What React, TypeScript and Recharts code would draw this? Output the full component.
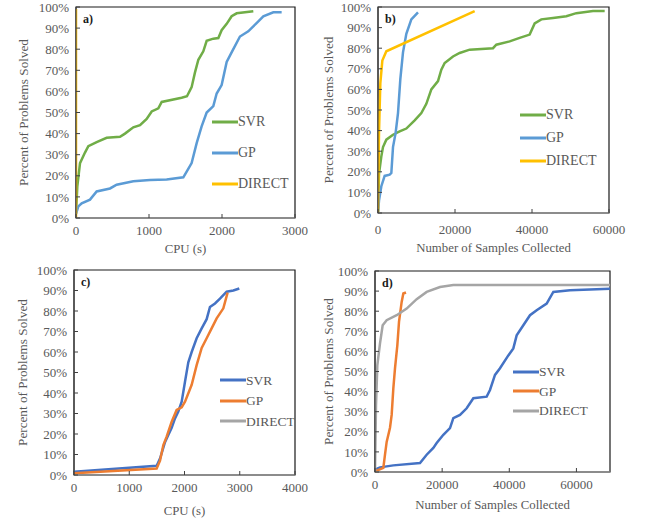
import {
  Legend,
  Line,
  LineChart,
  ReferenceArea,
  XAxis,
  YAxis,
} from "recharts";

// panel a) CPU time, SVR / GP / DIRECT
const aSvrX = [0, 18, 55, 123, 169, 283, 420, 603, 671, 785, 877, 968, 1037, 1128, 1174, 1447, 1520, 1584, 1630, 1676, 1744, 1790, 1881, 1950, 1995, 2064, 2132, 2201, 2429];
const aSvrY = [2, 15, 26, 31, 34, 36, 38, 38.5, 40, 43, 44, 47, 50.5, 52, 55, 57, 57.7, 62, 69, 75, 79, 84, 85, 85.3, 89, 92, 95.6, 97, 98];
const aGpX = [0, 32, 78, 192, 283, 466, 557, 785, 1014, 1242, 1470, 1516, 1584, 1653, 1721, 1790, 1881, 1927, 1995, 2064, 2155, 2246, 2360, 2474, 2566, 2703, 2817];
const aGpY = [2, 5.5, 7, 8.7, 12.6, 14, 15.8, 17.4, 18, 18.2, 19.3, 22, 26, 35.5, 43.4, 50, 53, 59, 63, 74, 80, 86, 88.5, 92.4, 95.6, 97.5, 97.5];
const aDirectX = [0, 0];
const aDirectY = [0, 99];

// panel b) samples collected
const bSvrX = [0, 260, 866, 1300, 2165, 3896, 5628, 7359, 9524, 11255, 12554, 13853, 15584, 16450, 17316, 19481, 21212, 23810, 29870, 30736, 34199, 36797, 39394, 40693, 42424, 45455, 48918, 51515, 55844, 58874];
const bSvrY = [0, 19, 27.5, 32, 35.6, 38, 39.6, 41, 45, 48.5, 53, 60, 64, 69.6, 72.8, 76, 77.7, 79.3, 80, 81.7, 83.3, 85, 86.6, 92, 94, 94.7, 95.5, 97, 98, 98];
const bGpX = [0, 260, 866, 1732, 3030, 3463, 3896, 4589, 5195, 5800, 6493, 7359, 8658, 10390];
const bGpY = [0, 6, 13, 18, 18.6, 19.4, 32, 39, 48.5, 65, 78, 87, 94, 97.4];
const bDirectX = [0, 260, 606, 1125, 2165, 25108];
const bDirectY = [0, 39, 63, 74, 78.5, 98];

// panel c) CPU time, second problem set
const cSvrX = [0, 1496, 1557, 1647, 1707, 1768, 1828, 1888, 1949, 2009, 2069, 2130, 2220, 2311, 2401, 2461, 2552, 2642, 2763, 2884, 2992];
const cSvrY = [1.6, 4.5, 8, 16, 19.5, 23, 27.6, 31, 35.8, 45.5, 55, 60, 66.7, 71.5, 76, 82, 83.7, 86, 89.4, 90, 91];
const cGpX = [0, 1496, 1557, 1617, 1677, 1768, 1858, 1949, 2009, 2130, 2220, 2311, 2401, 2491, 2582, 2703, 2780];
const cGpY = [0.8, 3.2, 7, 14.6, 18.7, 26, 31.7, 33, 35.8, 44, 53.6, 62, 66.7, 71.5, 76.4, 81.3, 89];
const cDirectX: number[] = [];
const cDirectY: number[] = [];

// panel d) samples collected, second problem set
const dSvrX = [0, 1489, 5461, 13404, 15390, 17376, 18369, 20355, 22340, 23333, 25319, 27305, 29291, 33262, 34255, 35745, 37234, 39716, 41206, 42199, 44184, 46170, 48156, 51135, 53121, 58085, 70000];
const dSvrY = [1.2, 2.3, 3.3, 4.5, 8.6, 12, 14.4, 18.5, 21.8, 26.8, 28.4, 31.7, 36.7, 37.5, 40.8, 48.3, 51.6, 58, 61.5, 68, 73, 78, 80.5, 83.8, 89.6, 90.4, 91.2];
const dGpX = [0, 2482, 2979, 3475, 4468, 4965, 5461, 5957, 6652, 7149, 7943, 8440, 9234];
const dGpY = [0.3, 2, 8.6, 15, 22, 28.4, 41.6, 51.6, 63, 74.7, 84.6, 88.8, 89.3];
const dDirectX = [0, 298, 695, 1489, 2284, 3475, 6454, 9433, 12411, 15390, 19362, 23333, 70000];
const dDirectY = [0, 33, 53, 64, 73, 75.5, 78, 81.3, 86, 89.6, 92, 93, 93];

const percentTicks = [0, 10, 20, 30, 40, 50, 60, 70, 80, 90, 100];
const cpuTicksA = [0, 1000, 2000, 3000];
const cpuTicksC = [0, 1000, 2000, 3000, 4000];
const sampleTicks = [0, 20000, 40000, 60000];
const seriesNames = ["SVR", "GP", "DIRECT"];

const serif = "'Liberation Serif', 'Times New Roman', serif";
const textGray = "#595959";
const colorsAB = ["#70AD47", "#5B9BD5", "#FFC000"];
const colorsCD = ["#4472C4", "#ED7D31", "#A5A5A5"];

function zip(xs: number[], ys: number[]) {
  return xs.map((x, i) => ({ x, y: ys[i] }));
}

type Series = { name: string; color: string; data: { x: number; y: number }[] };

type PanelProps = {
  left: number;
  top: number;
  width: number;
  height: number;
  margin: { top: number; right: number; bottom: number; left: number };
  yWidth: number;
  xHeight: number;
  xMax: number;
  xTicks: number[];
  xTickMargin: number;
  xTitle: string;
  xTitleOffset: number;
  yTitleOffset: number;
  tag: string;
  series: Series[];
  legendLeft: number;
  legendTop: number;
  legendGap: number;
  legendFont: number;
};

function LegendBox({ payload, gap, fontSize }: any) {
  const items = [...(payload || [])].sort(
    (a: any, b: any) => seriesNames.indexOf(a.value) - seriesNames.indexOf(b.value)
  );
  return (
    <div>
      {items.map((p: any) => (
        <div
          key={p.value}
          style={{ display: "flex", alignItems: "center", height: gap }}
        >
          <svg width={26} height={4} style={{ display: "block" }}>
            <line x1={0} y1={2} x2={26} y2={2} stroke={p.color} strokeWidth={3} />
          </svg>
          <span style={{ color: textGray, fontSize, fontFamily: serif, lineHeight: 1 }}>
            {p.value}
          </span>
        </div>
      ))}
    </div>
  );
}

function Panel(props: PanelProps) {
  const tick = { fill: textGray, fontSize: 13, fontFamily: serif };
  return (
    <div style={{ position: "absolute", left: props.left, top: props.top }}>
      <LineChart width={props.width} height={props.height} margin={props.margin}>
        <XAxis
          type="number"
          dataKey="x"
          domain={[0, props.xMax]}
          ticks={props.xTicks}
          interval={0}
          allowDataOverflow
          tick={tick}
          tickSize={-4}
          tickMargin={props.xTickMargin}
          tickLine={{ stroke: "#404040" }}
          axisLine={{ stroke: "#8c8c8c", strokeWidth: 1.5 }}
          height={props.xHeight}
          label={{
            value: props.xTitle,
            position: "insideBottom",
            offset: props.xTitleOffset,
            style: { fill: textGray, fontSize: 12.8, fontFamily: serif },
          }}
        />
        <YAxis
          type="number"
          dataKey="y"
          domain={[0, 100]}
          ticks={percentTicks}
          interval={0}
          tickFormatter={(v: number) => `${v}%`}
          tick={tick}
          tickSize={-4}
          tickMargin={11}
          tickLine={{ stroke: "#404040" }}
          axisLine={{ stroke: "#404040" }}
          width={props.yWidth}
          label={{
            value: "Percent of Problems Solved",
            angle: -90,
            position: "insideLeft",
            offset: props.yTitleOffset,
            style: { textAnchor: "middle", fill: textGray, fontSize: 13.2, fontFamily: serif },
          }}
        />
        <ReferenceArea
          x1={0}
          x2={props.xMax}
          y1={0}
          y2={100}
          fill="none"
          stroke="#1a1a1a"
          strokeWidth={1.2}
          label={{
            value: props.tag,
            position: "insideTopLeft",
            offset: 7,
            style: { fill: "#1a1a1a", fontSize: 12, fontWeight: "bold", fontFamily: serif },
          }}
        />
        {props.series.map((s) => (
          <Line
            key={s.name}
            data={s.data}
            dataKey="y"
            name={s.name}
            type="linear"
            stroke={s.color}
            strokeWidth={2.5}
            dot={false}
            isAnimationActive={false}
          />
        ))}
        <Legend
          layout="vertical"
          align="center"
          verticalAlign="middle"
          wrapperStyle={{ left: props.legendLeft, top: props.legendTop, width: "auto", height: "auto" }}
          content={<LegendBox gap={props.legendGap} fontSize={props.legendFont} />}
        />
      </LineChart>
    </div>
  );
}

function makeSeries(colors: string[], pairs: [number[], number[]][]): Series[] {
  return pairs.map(([xs, ys], i) => ({ name: seriesNames[i], color: colors[i], data: zip(xs, ys) }));
}

export default function App() {
  return (
    <div style={{ position: "absolute", left: 0, top: 0, width: 646, height: 521, background: "#fff" }}>
      <Panel
        left={0}
        top={0}
        width={320}
        height={260}
        margin={{ top: 7, right: 25, bottom: 0, left: 0 }}
        yWidth={76}
        xHeight={42}
        xMax={3000}
        xTicks={cpuTicksA}
        xTickMargin={12}
        xTitle="CPU (s)"
        xTitleOffset={7}
        yTitleOffset={23}
        tag="a)"
        series={makeSeries(colorsAB, [[aSvrX, aSvrY], [aGpX, aGpY], [aDirectX, aDirectY]])}
        legendLeft={212}
        legendTop={106}
        legendGap={31}
        legendFont={14}
      />
      <Panel
        left={320}
        top={0}
        width={326}
        height={260}
        margin={{ top: 7, right: 37, bottom: 0, left: 0 }}
        yWidth={58}
        xHeight={47}
        xMax={60000}
        xTicks={sampleTicks}
        xTickMargin={16}
        xTitle="Number of Samples Collected"
        xTitleOffset={8}
        yTitleOffset={8}
        tag="b)"
        series={makeSeries(colorsAB, [[bSvrX, bSvrY], [bGpX, bGpY], [bDirectX, bDirectY]])}
        legendLeft={200}
        legendTop={103}
        legendGap={23}
        legendFont={14}
      />
      <Panel
        left={0}
        top={260}
        width={320}
        height={261}
        margin={{ top: 10, right: 25, bottom: 0, left: 0 }}
        yWidth={74}
        xHeight={46}
        xMax={4000}
        xTicks={cpuTicksC}
        xTickMargin={12}
        xTitle="CPU (s)"
        xTitleOffset={6}
        yTitleOffset={22}
        tag="c)"
        series={makeSeries(colorsCD, [[cSvrX, cSvrY], [cGpX, cGpY], [cDirectX, cDirectY]])}
        legendLeft={220}
        legendTop={110}
        legendGap={20.5}
        legendFont={13.5}
      />
      <Panel
        left={320}
        top={260}
        width={326}
        height={261}
        margin={{ top: 11, right: 36, bottom: 0, left: 0 }}
        yWidth={55}
        xHeight={49}
        xMax={70000}
        xTicks={sampleTicks}
        xTickMargin={12}
        xTitle="Number of Samples Collected"
        xTitleOffset={12}
        yTitleOffset={8}
        tag="d)"
        series={makeSeries(colorsCD, [[dSvrX, dSvrY], [dGpX, dGpY], [dDirectX, dDirectY]])}
        legendLeft={193}
        legendTop={102}
        legendGap={19.5}
        legendFont={13.5}
      />
    </div>
  );
}
